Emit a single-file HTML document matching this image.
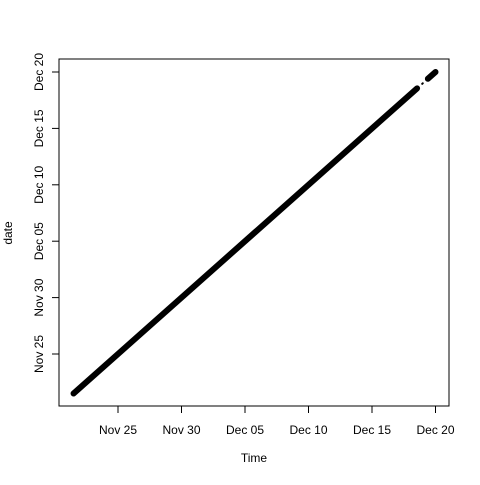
<!DOCTYPE html>
<html><head><meta charset="utf-8"><style>
body{margin:0;background:#fff;}
svg text{font-family:"Liberation Sans",Arial,sans-serif;font-size:12px;fill:#000;}
</style></head><body>
<svg width="480" height="480" id="c">
<rect x="59" y="59" width="390" height="347" fill="none" stroke="#000" stroke-width="1"/>
<text x="254" y="462" text-anchor="middle">Time</text>
<text transform="translate(12,233) rotate(-90)" text-anchor="middle">date</text>
<g id="marks"></g>
</svg>
<script>
// days relative to Nov 25
const tickLabels=["Nov 25","Nov 30","Dec 05","Dec 10","Dec 15","Dec 20"];
const tickValues=[0,5,10,15,20,25];
const segStarts=[-3.5,23.95,24.4];
const segEnds=[23.55,24.0,25.0];
const X=v=>118+v*12.7;
const Y=v=>354-v*11.28;
const svg=document.getElementById('c'), ns="http://www.w3.org/2000/svg";
tickValues.forEach((v,i)=>{
  let l=document.createElementNS(ns,'line');
  l.setAttribute('x1',X(v));l.setAttribute('x2',X(v));l.setAttribute('y1',406);l.setAttribute('y2',413);l.setAttribute('stroke','#000');
  
  
  svg.appendChild(l);
  let t=document.createElementNS(ns,'text');
  t.setAttribute('x',X(v));t.setAttribute('y',434);t.setAttribute('text-anchor','middle');t.textContent=tickLabels[i];
  
  
  svg.appendChild(t);
  let l2=document.createElementNS(ns,'line');
  l2.setAttribute('x1',52);l2.setAttribute('x2',59);l2.setAttribute('y1',Y(v));l2.setAttribute('y2',Y(v));l2.setAttribute('stroke','#000');
  
  
  svg.appendChild(l2);
  let t2=document.createElementNS(ns,'text');
  t2.setAttribute('transform','translate(43,'+Y(v)+') rotate(-90)');t2.setAttribute('text-anchor','middle');t2.textContent=tickLabels[i];
  
  
  svg.appendChild(t2);
});
const g=document.getElementById('marks');
segStarts.forEach((s,i)=>{
  const e=segEnds[i];
  let l=document.createElementNS(ns,'line');
  l.setAttribute('x1',X(s));l.setAttribute('y1',Y(s));l.setAttribute('x2',X(e));l.setAttribute('y2',Y(e));
  l.setAttribute('stroke','#000');l.setAttribute('stroke-width',i==1?2:6);l.setAttribute('stroke-linecap','round');
  
  
  g.appendChild(l);
});
</script>
</body></html>
